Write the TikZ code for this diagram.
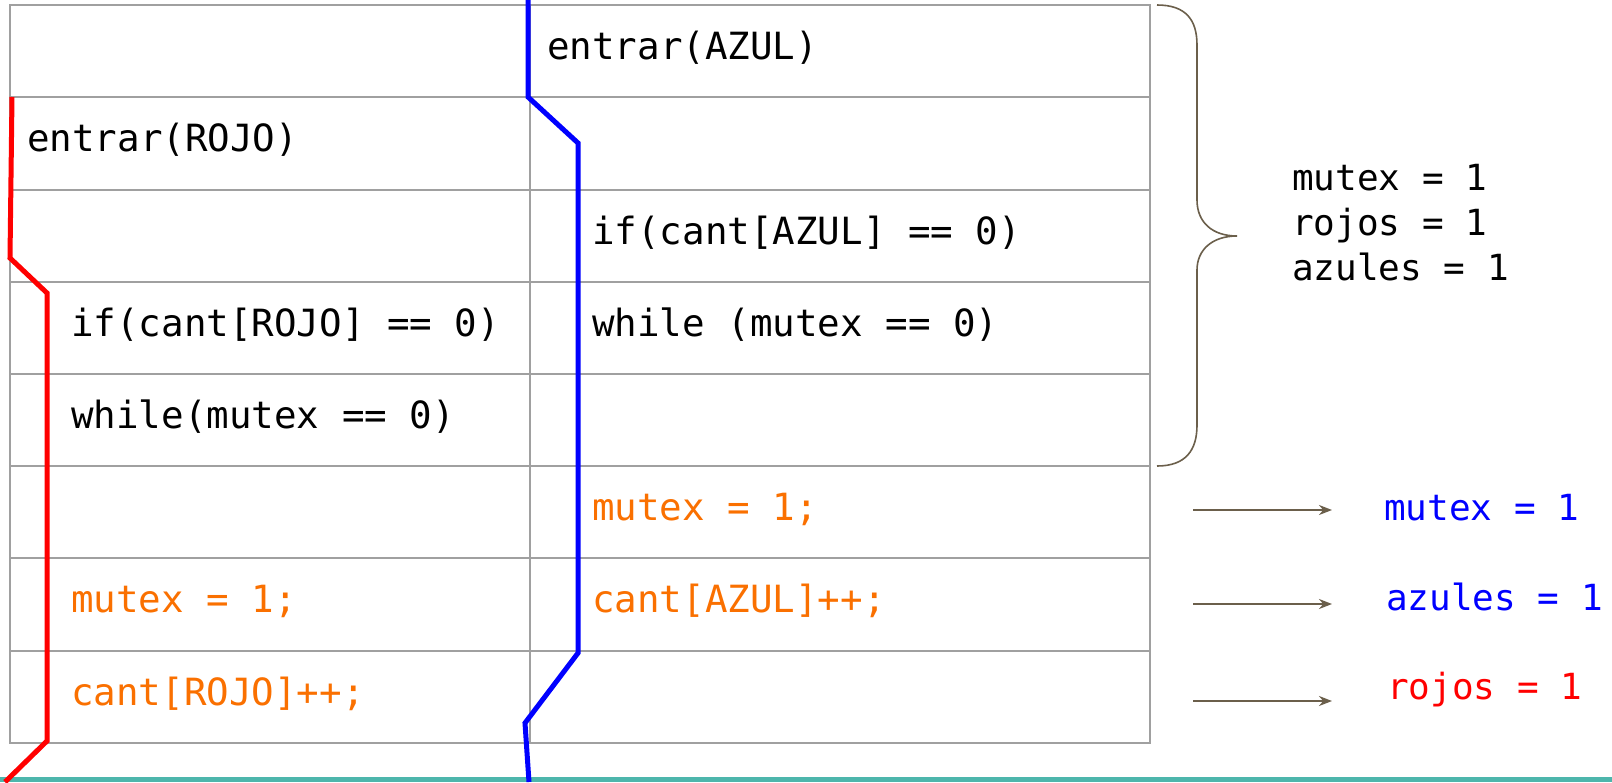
\documentclass[tikz,border=0pt]{standalone}
\usepackage{fontspec}
\setmonofont{DejaVu Sans Mono}
\usetikzlibrary{arrows.meta}
\definecolor{gridgray}{RGB}{160,160,160}
\definecolor{codeorange}{RGB}{250,112,0}
\definecolor{bracebrown}{RGB}{107,95,75}
\definecolor{tealbar}{RGB}{77,182,172}
\definecolor{pureblue}{RGB}{0,0,255}
\definecolor{purered}{RGB}{255,0,0}
\tikzset{
  code/.style={anchor=base west, inner sep=0pt, font=\fontsize{37.5}{44}\selectfont\ttfamily},
  side/.style={anchor=base west, inner sep=0pt, font=\fontsize{36}{42}\selectfont\ttfamily},
  blk/.style={code, text=black},
  org/.style={code, text=codeorange},
  gridline/.style={draw=gridgray, line width=2pt},
  thread/.style={line width=5pt, line join=miter},
  annot/.style={draw=bracebrown, line width=2pt, -{Stealth[length=13pt,width=10pt]}},
  brace/.style={draw=bracebrown, line width=1.6pt},
}
\begin{document}
\begin{tikzpicture}[x=1pt, y=-1pt]
\useasboundingbox (0,0) rectangle (1612,782);
\fill[white] (0,0) rectangle (1612,782);
% table grid
\draw[gridline] (10,5) rectangle (1150,743);
\foreach \yy in {97,190,282,374,466,558,651} {
  \draw[gridline] (10,\yy) -- (1150,\yy);
}
\draw[gridline] (530,5) -- (530,743);
% teal bar
\fill[tealbar] (0,777) rectangle (1612,782);
% table texts
\node[blk] (ea) at (547,59) {entrar(AZUL)};
\node[blk] (er) at (27,151) {entrar(ROJO)};
\node[blk] (ia) at (592,244) {if(cant[AZUL] == 0)};
\node[blk] (ir) at (71,336) {if(cant[ROJO] == 0)};
\node[blk] (wa) at (592,336) {while (mutex == 0)};
\node[blk] (wr) at (71,428) {while(mutex == 0)};
\node[org] (ma) at (592,520) {mutex = 1;};
\node[org] (mr) at (71,612) {mutex = 1;};
\node[org] (ca) at (592,612) {cant[AZUL]++;};
\node[org] (cr) at (71,705) {cant[ROJO]++;};
% threads
\draw[thread, purered] (12,97) -- (10,258) -- (47,293) -- (47,741) -- (5,782);
\draw[thread, pureblue] (528,0) -- (528,97) -- (578,143) -- (578,653) -- (525,723) -- (529,782);
% brace
\draw[brace] (1157,5) .. controls (1186,5) and (1197,20) .. (1197,45)
  -- (1197,200) .. controls (1197,222) and (1212,236) .. (1237,236)
  .. controls (1212,236) and (1197,250) .. (1197,270)
  -- (1197,425) .. controls (1197,450) and (1186,466) .. (1157,466);
% initial values
\node[side] (im) at (1292,190) {mutex = 1};
\node[side] (ir2) at (1292,235) {rojos = 1};
\node[side] (iaz) at (1292,280) {azules = 1};
% result values
\node[side, text=pureblue] (rm) at (1384,520) {mutex = 1};
\node[side, text=pureblue] (raz) at (1386,610) {azules = 1};
\node[side, text=purered] (rr) at (1387,699) {rojos = 1};
% arrows
\coordinate (s1) at (1193,510); \coordinate (e1) at (1332,510);
\coordinate (s2) at (1193,604); \coordinate (e2) at (1332,604);
\coordinate (s3) at (1193,701); \coordinate (e3) at (1332,701);
\draw[annot] (s1) -- (e1);
\draw[annot] (s2) -- (e2);
\draw[annot] (s3) -- (e3);
\end{tikzpicture}
\end{document}
